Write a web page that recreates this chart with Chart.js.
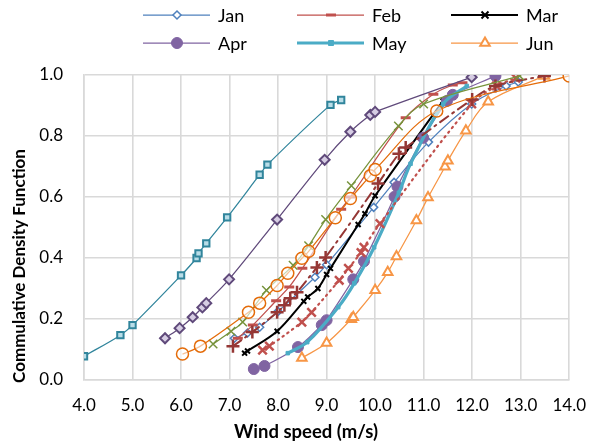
<!DOCTYPE html>
<html>
<head>
<meta charset="utf-8">
<script src="https://cdn.jsdelivr.net/npm/chart.js@4.4.0/dist/chart.umd.min.js"></script>
<style>
  html, body { margin: 0; padding: 0; background: #fff; }
  #wrap { width: 601px; height: 447px; }
</style>
</head>
<body>
<div id="wrap"><canvas id="cdf-chart" width="601" height="447"></canvas></div>
<script>
// --- Monthly wind speed CDF values ---
const janSpeed = [7.1, 7.37, 7.62, 8.0, 8.76, 9.0, 9.97, 10.39, 11.1, 11.99, 12.7, 12.95];
const janCdf   = [0.137, 0.154, 0.173, 0.225, 0.337, 0.378, 0.566, 0.648, 0.78, 0.905, 0.964, 0.977];

const febSpeed = [7.17, 7.48, 7.96, 8.23, 8.5, 9.3, 9.49, 10.63, 11.2, 11.6, 11.8];
const febCdf   = [0.137, 0.18, 0.26, 0.305, 0.366, 0.56, 0.6, 0.86, 0.937, 0.967, 0.975];

const marSpeed = [7.31, 7.37, 7.98, 8.53, 8.61, 8.82, 9.0, 9.08, 9.65, 9.79, 10.0, 11.4];
const marCdf   = [0.088, 0.095, 0.16, 0.258, 0.272, 0.3, 0.346, 0.366, 0.51, 0.545, 0.604, 0.915];

const aprSpeed = [7.5, 7.72, 8.41, 8.9, 9.0, 9.55, 9.77, 10.4, 10.46, 10.99, 11.48, 11.6, 12.48];
const aprCdf   = [0.036, 0.046, 0.108, 0.18, 0.196, 0.33, 0.389, 0.601, 0.634, 0.794, 0.915, 0.935, 0.997];

const maySpeed = [8.2, 8.6, 9.24, 9.57, 9.98, 10.49, 10.73, 11.4, 11.89];
const mayCdf   = [0.088, 0.124, 0.239, 0.317, 0.435, 0.614, 0.709, 0.905, 0.964];

const junSpeed = [8.49, 9.0, 9.51, 9.55, 10.0, 10.26, 10.44, 10.85, 11.09, 11.44, 11.5, 11.87, 12.33, 13.49];
const junCdf   = [0.072, 0.121, 0.199, 0.206, 0.294, 0.353, 0.405, 0.523, 0.598, 0.699, 0.719, 0.817, 0.912, 0.997];

const julSpeed = [7.68, 7.82, 8.49, 8.69, 9.26, 9.45, 9.71, 9.77, 10.1, 11.99, 12.5, 12.9];
const julCdf   = [0.098, 0.111, 0.19, 0.222, 0.327, 0.366, 0.418, 0.435, 0.513, 0.905, 0.964, 0.99];

const augSpeed = [7.07, 7.47, 7.98, 8.13, 8.25, 8.39, 8.8, 8.98, 10.06, 10.49, 10.63, 12.0, 12.48, 13.49];
const augCdf   = [0.111, 0.157, 0.222, 0.245, 0.268, 0.288, 0.369, 0.402, 0.644, 0.742, 0.762, 0.92, 0.964, 0.997];

const sepSpeed = [6.66, 7.03, 7.27, 7.76, 8.31, 8.63, 8.98, 9.51, 10.48, 11.0, 12.98];
const sepCdf   = [0.118, 0.16, 0.19, 0.294, 0.376, 0.44, 0.526, 0.637, 0.833, 0.905, 0.997];

const octSpeed = [5.67, 5.97, 6.24, 6.44, 6.52, 6.99, 7.98, 8.96, 9.49, 9.9, 10.0, 11.99];
const octCdf   = [0.137, 0.17, 0.206, 0.238, 0.252, 0.33, 0.526, 0.722, 0.814, 0.869, 0.879, 0.993];

const novSpeed = [4.0, 4.75, 5.0, 6.0, 6.32, 6.36, 6.52, 6.95, 7.62, 7.78, 9.08, 9.3];
const novCdf   = [0.078, 0.147, 0.18, 0.343, 0.40, 0.415, 0.448, 0.533, 0.673, 0.706, 0.902, 0.918];

const decSpeed = [6.03, 6.4, 7.39, 7.62, 7.98, 8.2, 8.49, 8.63, 9.18, 9.49, 9.9, 10.0, 11.27, 14.0];
const decCdf   = [0.085, 0.111, 0.222, 0.252, 0.31, 0.35, 0.399, 0.422, 0.532, 0.595, 0.67, 0.69, 0.882, 0.997];

const xTicks = [4, 5, 6, 7, 8, 9, 10, 11, 12, 13, 14];
const yTicks = [0, 0.2, 0.4, 0.6, 0.8, 1.0];

const FONT = "Lato, 'Open Sans', sans-serif";

function pts(xs, ys) {
  return xs.map((x, i) => ({ x, y: ys[i] }));
}

// line style for every month
const series = [
  { label: "Jan", xs: janSpeed, ys: janCdf, color: "#4F81BD", width: 1.25, marker: "rectRot", r: 4, fill: "#fff", mw: 1.5 },
  { label: "Feb", xs: febSpeed, ys: febCdf, color: "#C0504D", width: 1.25, marker: "line", r: 5, fill: "#C0504D", mw: 3 },
  { label: "Mar", xs: marSpeed, ys: marCdf, color: "#000000", width: 2, marker: "crossRot", r: 3.5, fill: "#000", mw: 2 },
  { label: "Apr", xs: aprSpeed, ys: aprCdf, color: "#8064A2", width: 1.25, marker: "circle", r: 5.5, fill: "#8064A2", mw: 1 },
  { label: "May", xs: maySpeed, ys: mayCdf, color: "#4BACC6", width: 3.2, marker: "rect", r: 2.5, fill: "#4BACC6", mw: 1 },
  { label: "Jun", xs: junSpeed, ys: junCdf, color: "#F79646", width: 1.25, marker: "triangle", r: 5.5, fill: "#fff", mw: 2 },
  { label: "Jul", xs: julSpeed, ys: julCdf, color: "#C0504D", width: 2.2, marker: "crossRot", r: 6, fill: "#C0504D", mw: 2.5, dash: [1.5, 4.5] },
  { label: "Aug", xs: augSpeed, ys: augCdf, color: "#953735", width: 2, marker: "cross", r: 6.5, fill: "#953735", mw: 2.5, dash: [10, 5, 2, 5] },
  { label: "Sep", xs: sepSpeed, ys: sepCdf, color: "#77933C", width: 1.25, marker: "crossRot", r: 6, fill: "#77933C", mw: 1.5 },
  { label: "Oct", xs: octSpeed, ys: octCdf, color: "#604A7B", width: 1.25, marker: "rectRot", r: 5, fill: "#d6cde3", mw: 2 },
  { label: "Nov", xs: novSpeed, ys: novCdf, color: "#31859C", width: 1.25, marker: "rect", r: 4.5, fill: "#b9dde8", mw: 2 },
  { label: "Dec", xs: decSpeed, ys: decCdf, color: "#E46C0A", width: 1.25, marker: "circle", r: 6, fill: "rgba(255,255,255,0.6)", mw: 1.5 },
];

const datasets = series.map((s, i) => ({
  label: s.label,
  data: pts(s.xs, s.ys),
  showLine: true,
  tension: 0.35,
  borderColor: s.color,
  borderWidth: s.width,
  borderDash: s.dash || [],
  borderCapStyle: s.dash ? "round" : "butt",
  pointStyle: s.marker,
  pointRadius: s.r,
  pointBackgroundColor: s.fill,
  pointBorderColor: s.color,
  pointBorderWidth: s.mw,
  order: 12 - i,
}));

// small marker drawer for the legend
function drawMarker(ctx, s, x, y) {
  ctx.save();
  ctx.strokeStyle = s.color;
  ctx.fillStyle = s.fill;
  ctx.lineWidth = s.mw;
  ctx.setLineDash([]);
  const r = s.r;
  ctx.beginPath();
  if (s.marker === "rectRot") {
    ctx.moveTo(x, y - r); ctx.lineTo(x + r, y); ctx.lineTo(x, y + r); ctx.lineTo(x - r, y); ctx.closePath();
    ctx.fill(); ctx.stroke();
  } else if (s.marker === "line") {
    ctx.moveTo(x - r, y); ctx.lineTo(x + r, y); ctx.stroke();
  } else if (s.marker === "crossRot") {
    ctx.moveTo(x - r, y - r); ctx.lineTo(x + r, y + r);
    ctx.moveTo(x + r, y - r); ctx.lineTo(x - r, y + r); ctx.stroke();
  } else if (s.marker === "circle") {
    ctx.arc(x, y, r, 0, Math.PI * 2); ctx.fill(); ctx.stroke();
  } else if (s.marker === "rect") {
    ctx.rect(x - r, y - r, 2 * r, 2 * r); ctx.fill(); ctx.stroke();
  } else if (s.marker === "triangle") {
    ctx.moveTo(x, y - r); ctx.lineTo(x + r * 0.87, y + r * 0.5); ctx.lineTo(x - r * 0.87, y + r * 0.5); ctx.closePath();
    ctx.fill(); ctx.stroke();
  }
  ctx.restore();
}

const legendCols = [143, 297, 451];
const legendRows = [15, 43];

const overlay = {
  id: "overlay",
  afterDraw(chart) {
    const ctx = chart.ctx;
    // legend (first six months only, as in the original)
    series.slice(0, 6).forEach((s, i) => {
      const x0 = legendCols[i % 3];
      const y = legendRows[Math.floor(i / 3)];
      ctx.save();
      ctx.strokeStyle = s.color;
      ctx.lineWidth = s.width;
      ctx.beginPath();
      ctx.moveTo(x0, y); ctx.lineTo(x0 + 67, y); ctx.stroke();
      ctx.restore();
      drawMarker(ctx, s, x0 + 34, y);
      ctx.save();
      ctx.fillStyle = "#000";
      ctx.font = "18px " + FONT;
      ctx.textBaseline = "middle";
      ctx.fillText(s.label, x0 + 75, y + 1);
      ctx.restore();
    });
    // axis titles
    ctx.save();
    ctx.fillStyle = "#000";
    ctx.textAlign = "center";
    ctx.textBaseline = "middle";
    ctx.font = "bold 18.5px " + FONT;
    ctx.fillText("Wind speed (m/s)", 306, 432);
    ctx.font = "bold 17px " + FONT;
    ctx.translate(20, 266);
    ctx.rotate(-Math.PI / 2);
    ctx.fillText("Commulative Density Function", 0, 0);
    ctx.restore();
  },
};

const ctx = document.getElementById("cdf-chart").getContext("2d");
new Chart(ctx, {
  type: "scatter",
  data: { datasets },
  plugins: [overlay],
  options: {
    responsive: false,
    animation: false,
    events: [],
    layout: { padding: { top: 75, right: 25, left: 0, bottom: 0 } },
    plugins: { legend: { display: false }, tooltip: { enabled: false } },
    scales: {
      x: {
        type: "linear",
        min: xTicks[0],
        max: xTicks[xTicks.length - 1],
        afterBuildTicks: (scale) => { scale.ticks = xTicks.map((v) => ({ value: v })); },
        afterFit: (scale) => { scale.height = 67; },
        ticks: {
          padding: 15,
          color: "#000",
          font: { family: FONT, size: 17 },
          callback: (v) => Number(v).toFixed(1),
        },
        grid: { color: "#d9d9d9", lineWidth: 1.6, drawTicks: false },
        border: { color: "#d9d9d9", width: 1.6 },
      },
      y: {
        min: yTicks[0],
        max: yTicks[yTicks.length - 1],
        afterBuildTicks: (scale) => { scale.ticks = yTicks.map((v) => ({ value: v })); },
        afterFit: (scale) => { scale.width = 84; },
        ticks: {
          padding: 21,
          color: "#000",
          font: { family: FONT, size: 17 },
          callback: (v) => Number(v).toFixed(1),
        },
        grid: { color: "#d9d9d9", lineWidth: 1.6, drawTicks: false },
        border: { color: "#d9d9d9", width: 1.6 },
      },
    },
  },
});
</script>
</body>
</html>
